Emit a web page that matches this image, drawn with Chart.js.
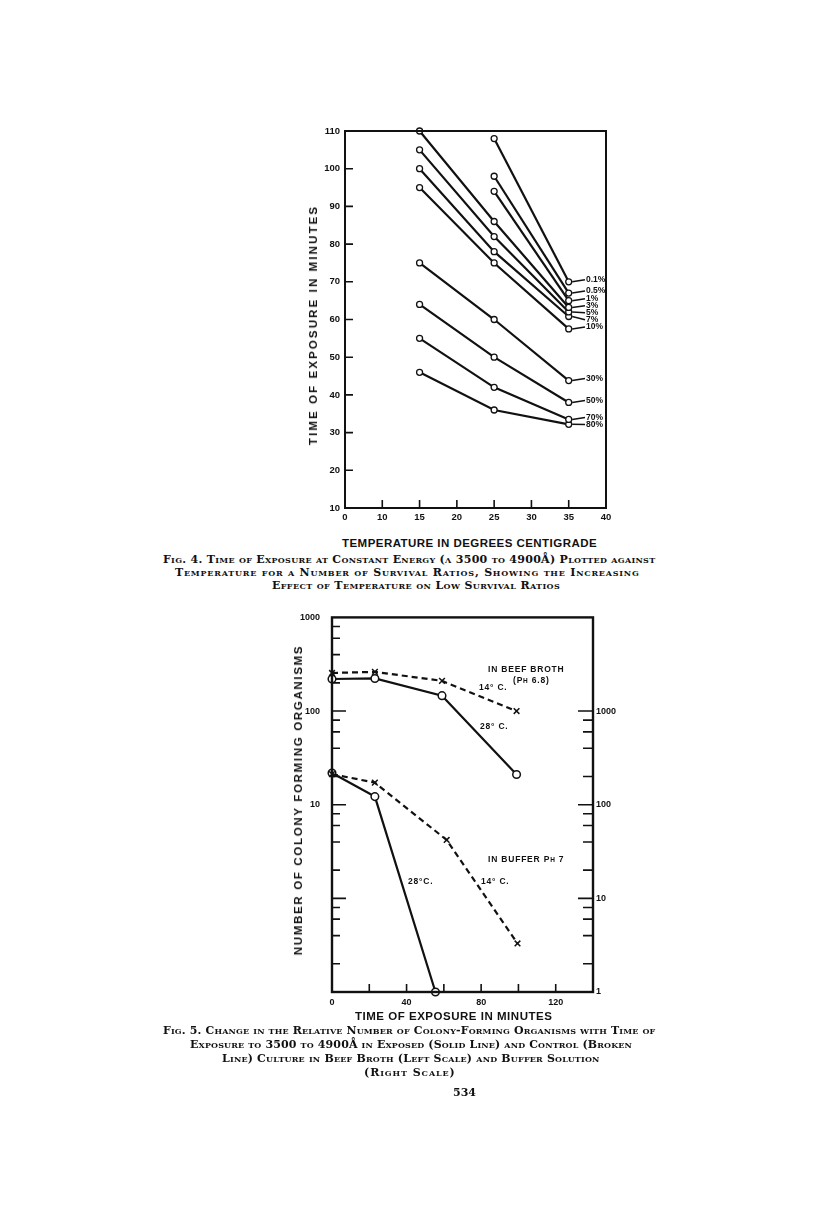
<!DOCTYPE html>
<html><head><meta charset="utf-8">
<script src="https://cdn.jsdelivr.net/npm/chart.js@4.4.1/dist/chart.umd.min.js"></script>
<style>
html,body{margin:0;padding:0;background:#fff;}
body{width:816px;height:1220px;position:relative;overflow:hidden;font-family:"Liberation Sans",Arial,sans-serif;color:#111;}
.abs{position:absolute;white-space:nowrap;}
.axt{font-weight:bold;font-size:11.5px;display:inline-block;line-height:12px;}
.rot{transform:translate(-50%,-50%) rotate(-90deg);transform-origin:50% 50%;}
.cap{font-family:"DejaVu Serif",serif;font-variant:small-caps;font-weight:bold;font-size:11px;line-height:14px;display:inline-block;}
.ann{font-weight:bold;font-size:8.5px;letter-spacing:0.8px;line-height:10px;}
</style></head><body>

<div class="abs" style="left:290px;top:115px;width:340px;height:420px"><canvas id="c1" width="340" height="420"></canvas></div>
<div class="abs" style="left:280px;top:600px;width:340px;height:420px"><canvas id="c2" width="340" height="420"></canvas></div>

<!-- Fig 4 axis titles -->
<div class="abs axt rot" data-w="240" style="left:313px;top:325px">TIME OF EXPOSURE IN MINUTES</div>
<div class="abs axt" data-w="255" style="left:342px;top:537px">TEMPERATURE IN DEGREES CENTIGRADE</div>

<!-- Fig 4 caption -->
<div class="abs cap" data-w="492" style="left:163px;top:553px">Fig. 4. Time of Exposure at Constant Energy (λ 3500 to 4900Å) Plotted against</div>
<div class="abs cap" data-w="465" style="left:175px;top:566px">Temperature for a Number of Survival Ratios, Showing the Increasing</div>
<div class="abs cap" data-w="288" style="left:272px;top:579px">Effect of Temperature on Low Survival Ratios</div>

<!-- Fig 5 axis titles -->
<div class="abs axt rot" data-w="310" style="left:298px;top:800px">NUMBER OF COLONY FORMING ORGANISMS</div>
<div class="abs axt" data-w="197" style="left:355px;top:1010px">TIME OF EXPOSURE IN MINUTES</div>

<!-- Fig 5 annotations -->
<div class="abs ann" style="left:488px;top:664px">IN BEEF BROTH</div>
<div class="abs ann" style="left:513px;top:675px">(P<span style="font-size:6.5px">H</span> 6.8)</div>
<div class="abs ann" style="left:479px;top:682px">14° C.</div>
<div class="abs ann" style="left:480px;top:721px">28° C.</div>
<div class="abs ann" style="left:488px;top:854px">IN BUFFER P<span style="font-size:6.5px">H</span> 7</div>
<div class="abs ann" style="left:408px;top:876px">28°C.</div>
<div class="abs ann" style="left:481px;top:876px">14° C.</div>

<!-- Fig 5 caption -->
<div class="abs cap" data-w="492" style="left:163px;top:1024px">Fig. 5. Change in the Relative Number of Colony-Forming Organisms with Time of</div>
<div class="abs cap" data-w="442" style="left:190px;top:1038px">Exposure to 3500 to 4900Å in Exposed (Solid Line) and Control (Broken</div>
<div class="abs cap" data-w="378" style="left:222px;top:1052px">Line) Culture in Beef Broth (Left Scale) and Buffer Solution</div>
<div class="abs cap" data-w="92" style="left:364px;top:1066px">(Right Scale)</div>
<div class="abs cap" style="left:453px;top:1086px;font-variant:normal">534</div>

<script>
// ---------- Fig. 4 data ----------
const tempLabels = ['0','10','15','20','25','30','35','40'];
const temps = ['15','25','35'];
const ratios = ['0.1%','0.5%','1%','3%','5%','7%','10%','30%','50%','70%','80%'];
const t01 = [null, 108, 70];
const t05 = [null, 98, 67];
const t1  = [null, 94, 65];
const t3  = [110, 86, 63.2];
const t5  = [105, 82, 62];
const t7  = [100, 78, 60.8];
const t10 = [95, 75, 57.5];
const t30 = [75, 60, 43.8];
const t50 = [64, 50, 38];
const t70 = [55, 42, 33.5];
const t80 = [46, 36, 32.2];
const exposure = [t01,t05,t1,t3,t5,t7,t10,t30,t50,t70,t80];
const yTicks1 = [10,20,30,40,50,60,70,80,90,100,110];

// ---------- Fig. 5 data ----------
const beefTimes = [0, 23, 59, 99];
const beef14C = [255, 262, 210, 100];
const beef28C = [220, 223, 146, 21];
const buffer14Times = [0, 23, 61.5, 99.5];
const buffer14C = [212, 172, 42, 3.3];
const buffer28Times = [0, 23, 55.5];
const buffer28C = [218, 122, 1];
const leftTicks = [0.1,0.2,0.4,0.6,0.8,1,2,4,6,8,10,20,40,60,80,100,200,400,600,800,1000];
const leftLabels = [10,100,1000];
const rightTicks = [1,2,4,6,8,10,20,40,60,80,100,200,400,600,800,1000];
const rightLabels = [1,10,100,1000];
const xTicks2 = [0,20,40,60,80,100,120];
const xLabels2 = [0,40,80,120];

// fit text widths
document.querySelectorAll('[data-w]').forEach(el=>{
  const target=+el.dataset.w;
  const n=el.textContent.length;
  const w=el.offsetWidth;
  el.style.letterSpacing=((target-w)/n)+'px';
});

Chart.defaults.font.family = '"Liberation Sans", Arial, sans-serif';
Chart.defaults.color = '#111';
const INK = '#111';

function pts(xs, ys){ return xs.map((x,i)=>({x:x,y:ys[i]})).filter(p=>p.y!==null); }

const framePlugin = {
  id:'frame',
  afterDraw(chart, args, opts){
    const {ctx, chartArea:a} = chart;
    ctx.save();
    ctx.strokeStyle = INK; ctx.lineWidth = opts.lw || 2;
    ctx.strokeRect(a.left, a.top, a.right-a.left, a.bottom-a.top);
    ctx.restore();
  }
};

// inside tick marks for Fig 4
const ticks1Plugin = {
  id:'ticks1',
  afterDraw(chart){
    const {ctx, chartArea:a, scales} = chart;
    ctx.save(); ctx.strokeStyle = INK; ctx.lineWidth = 1.6;
    ctx.beginPath();
    yTicks1.forEach(v=>{ if(v===10||v===110) return; const y=scales.y.getPixelForValue(v); ctx.moveTo(a.left,y); ctx.lineTo(a.left+8,y); });
    tempLabels.forEach((l,i)=>{ if(i===0||i===tempLabels.length-1) return; const x=scales.x.getPixelForTick(i); ctx.moveTo(x,a.bottom); ctx.lineTo(x,a.bottom-8); });
    ctx.stroke(); ctx.restore();
  }
};

// survival ratio labels with leader lines
const ratioLabelPlugin = {
  id:'ratioLabels',
  afterDatasetsDraw(chart){
    const {ctx, chartArea:a} = chart;
    const items = chart.data.datasets.map((ds,i)=>{
      const meta = chart.getDatasetMeta(i);
      const el = meta.data[meta.data.length-1];
      return {label: ds.label, px: el.x, py: el.y};
    });
    let prev = -1e9;
    items.forEach(it=>{ it.ly = Math.max(it.py-2, prev+7); prev = it.ly; });
    ctx.save();
    ctx.strokeStyle = INK; ctx.fillStyle = INK; ctx.lineWidth = 1.5;
    ctx.font = 'bold 8.5px "Liberation Sans", Arial, sans-serif';
    ctx.textBaseline = 'middle'; ctx.textAlign = 'left';
    const lx = a.right - 20;
    items.forEach(it=>{
      ctx.beginPath(); ctx.moveTo(it.px+3.5, it.py); ctx.lineTo(lx-1, it.ly); ctx.stroke();
      ctx.fillText(it.label, lx, it.ly);
    });
    ctx.restore();
  }
};

new Chart(document.getElementById('c1'), {
  type:'line',
  data:{
    labels: tempLabels,
    datasets: ratios.map((r,i)=>({
      label:r, data: pts(temps, exposure[i]),
      borderColor:INK, borderWidth:2.2, tension:0, fill:false, clip:false,
      pointRadius:3, pointBackgroundColor:'#fff', pointBorderColor:INK, pointBorderWidth:1.3
    }))
  },
  options:{
    responsive:false, animation:false,
    layout:{padding:{top:16,right:24,left:0,bottom:0}},
    plugins:{legend:{display:false}, tooltip:{enabled:false}, frame:{lw:2}},
    scales:{
      x:{type:'category', offset:false, grid:{display:false,drawTicks:false}, border:{display:false},
         ticks:{font:{weight:'bold',size:9.5}, color:INK, padding:4, maxRotation:0, autoSkip:false},
         afterFit:s=>{s.height=27;}},
      y:{type:'linear', min:10, max:110, grid:{display:false,drawTicks:false}, border:{display:false},
         afterBuildTicks:s=>{s.ticks = yTicks1.map(v=>({value:v}));},
         ticks:{font:{weight:'bold',size:9.5}, color:INK, padding:5},
         afterFit:s=>{s.width=55;}}
    }
  },
  plugins:[framePlugin, ticks1Plugin, ratioLabelPlugin]
});

// Fig 5
const ticks2Plugin = {
  id:'ticks2',
  afterDraw(chart){
    const {ctx, chartArea:a, scales} = chart;
    ctx.save(); ctx.strokeStyle = INK; ctx.lineWidth = 1.6;
    ctx.beginPath();
    leftTicks.forEach(v=>{ if(v===0.1||v===1000) return; const y=scales.y.getPixelForValue(v); const major=[1,10,100].includes(v); ctx.moveTo(a.left,y); ctx.lineTo(a.left+(major?14:8),y); });
    rightTicks.forEach(v=>{ if(v===1) return; const y=scales.y2.getPixelForValue(v); const major=[10,100,1000].includes(v); ctx.moveTo(a.right,y); ctx.lineTo(a.right-(major?15:10),y); });
    xTicks2.forEach(v=>{ if(v===0) return; const x=scales.x.getPixelForValue(v); ctx.moveTo(x,a.bottom); ctx.lineTo(x,a.bottom-8); });
    ctx.stroke(); ctx.restore();
  }
};

const solid = {borderColor:INK, borderWidth:2.2, tension:0, fill:false, clip:false,
  pointStyle:'circle', pointRadius:3.8, pointBackgroundColor:'#fff', pointBorderColor:INK, pointBorderWidth:1.5};
const dashed = {borderColor:INK, borderWidth:2.2, borderDash:[6,4], tension:0, fill:false, clip:false,
  pointStyle:'crossRot', pointRadius:4, pointBackgroundColor:INK, pointBorderColor:INK, pointBorderWidth:1.5};

new Chart(document.getElementById('c2'), {
  type:'line',
  data:{
    datasets:[
      Object.assign({label:'Beef broth 14° C.', data:pts(beefTimes, beef14C), yAxisID:'y'}, dashed),
      Object.assign({label:'Beef broth 28° C.', data:pts(beefTimes, beef28C), yAxisID:'y'}, solid),
      Object.assign({label:'Buffer 14° C.', data:pts(buffer14Times, buffer14C), yAxisID:'y2'}, dashed),
      Object.assign({label:'Buffer 28° C.', data:pts(buffer28Times, buffer28C), yAxisID:'y2'}, solid)
    ]
  },
  options:{
    responsive:false, animation:false,
    layout:{padding:{top:15,right:0,left:0,bottom:0}},
    plugins:{legend:{display:false}, tooltip:{enabled:false}, frame:{lw:2.4}},
    scales:{
      x:{type:'linear', min:0, max:140, grid:{display:false,drawTicks:false}, border:{display:false},
         afterBuildTicks:s=>{s.ticks = xTicks2.map(v=>({value:v}));},
         ticks:{font:{weight:'bold',size:9}, color:INK, padding:5, maxRotation:0, autoSkip:false,
                callback:v=>xLabels2.includes(v)?String(v):''},
         afterFit:s=>{s.height=28;}},
      y:{type:'logarithmic', position:'left', min:0.1, max:1000, grid:{display:false,drawTicks:false}, border:{display:false},
         afterBuildTicks:s=>{s.ticks = leftTicks.map(v=>({value:v}));},
         ticks:{font:{weight:'bold',size:9}, color:INK, padding:12, autoSkip:false,
                callback:v=>leftLabels.includes(v)?String(v):''},
         afterFit:s=>{s.width=52;}},
      y2:{type:'logarithmic', position:'right', min:1, max:10000, grid:{display:false,drawTicks:false}, border:{display:false},
         afterBuildTicks:s=>{s.ticks = rightTicks.map(v=>({value:v}));},
         ticks:{font:{weight:'bold',size:9}, color:INK, padding:3, autoSkip:false,
                callback:v=>rightLabels.includes(v)?String(v):''},
         afterFit:s=>{s.width=27;}}
    }
  },
  plugins:[framePlugin, ticks2Plugin]
});
</script>
</body></html>
